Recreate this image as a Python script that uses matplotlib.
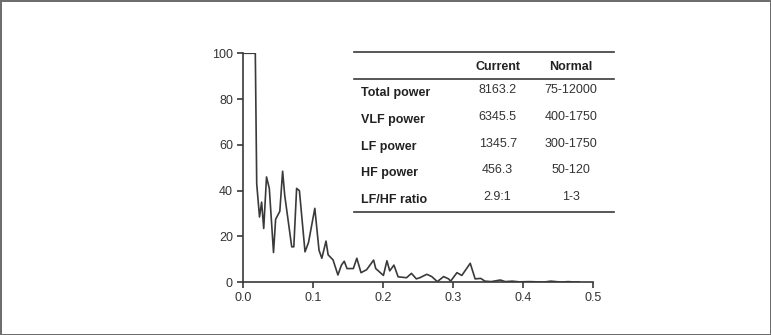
import numpy as np
import matplotlib.pyplot as plt
from matplotlib.lines import Line2D

plt.rcParams['font.family'] = ['Liberation Sans Narrow', 'Liberation Sans', 'DejaVu Sans']

# Spectrum
freq = [0.0, 0.018, 0.020, 0.024, 0.027, 0.030, 0.034, 0.038, 0.044, 0.047,
        0.053, 0.057, 0.060, 0.070, 0.073, 0.077, 0.081, 0.089, 0.094, 0.103,
        0.109, 0.113, 0.119, 0.122, 0.129, 0.136, 0.141, 0.145, 0.149, 0.158,
        0.163, 0.169, 0.177, 0.187, 0.190, 0.201, 0.206, 0.210, 0.216, 0.222,
        0.234, 0.241, 0.248, 0.253, 0.263, 0.270, 0.278, 0.287, 0.294, 0.297,
        0.306, 0.313, 0.325, 0.332, 0.340, 0.346, 0.355, 0.368, 0.375, 0.385,
        0.395, 0.410, 0.430, 0.440, 0.455, 0.465, 0.475, 0.480]
power = [100, 100, 43, 28.5, 35, 23.5, 46, 41, 13, 27.5,
         31, 48.5, 38, 15.5, 15.5, 41, 40, 13.3, 17.4, 32.3,
         14, 10.5, 18, 12, 9.8, 3.2, 7.5, 9.2, 6, 6,
         10.5, 4.2, 5.5, 9.7, 6, 3, 9.4, 5, 7.5, 2.4,
         2, 3.9, 1.5, 2, 3.5, 2.5, 0.3, 2.5, 1.5, 0.5,
         4.2, 3, 8.3, 1.5, 1.7, 0.5, 0.3, 1.0, 0.3, 0.5,
         0.2, 0.3, 0.1, 0.5, 0.1, 0.3, 0.1, 0.2]

xticks = [0.0, 0.1, 0.2, 0.3, 0.4, 0.5]
yticks = [0, 20, 40, 60, 80, 100]

# Table contents
col_heads = ["Current", "Normal"]
row_names = ["Total power", "VLF power", "LF power", "HF power", "LF/HF ratio"]
current = ["8163.2", "6345.5", "1345.7", "456.3", "2.9:1"]
normal = ["75-12000", "400-1750", "300-1750", "50-120", "1-3"]

fig = plt.figure(figsize=(7.71, 3.35), dpi=100)
fig.patch.set_edgecolor('#6e6e6e')
fig.patch.set_linewidth(2)

ax = fig.add_axes([0.3148, 0.1573, 0.454, 0.6837])
ax.plot(freq, power, color='#3a3a3a', lw=1.2)
ax.set_xlim(0, 0.5)
ax.set_ylim(0, 100)
ax.set_xticks(xticks)
ax.set_xticklabels(["{:.1f}".format(t) for t in xticks])
ax.set_yticks(yticks)
for s in ['top', 'right']:
    ax.spines[s].set_visible(False)
for s in ['left', 'bottom']:
    ax.spines[s].set_color('#3a3a3a')
    ax.spines[s].set_linewidth(1.2)
ax.tick_params(direction='out', length=4, width=1.2, color='#3a3a3a',
               labelsize=9, labelcolor='#333333', pad=3)

# Table drawn in figure coordinates
x0, x1 = 0.459, 0.7964
for y in [0.8439, 0.7642, 0.3681]:
    fig.add_artist(Line2D([x0, x1], [y, y], color='#3a3a3a', lw=1.2))

fs = 9
col_x = [0.6455, 0.7406]
fig.text(col_x[0], 0.801, col_heads[0], ha='center', va='center',
         fontsize=fs, fontweight='bold', color='#222222')
fig.text(col_x[1], 0.801, col_heads[1], ha='center', va='center',
         fontsize=fs, fontweight='bold', color='#222222')
row_y = [0.7215, 0.6418, 0.5612, 0.4826, 0.4030]
for name, c, n, y in zip(row_names, current, normal, row_y):
    fig.text(0.468, y, name, ha='left', va='center', fontsize=fs,
             fontweight='bold', color='#222222')
    fig.text(col_x[0], y + 0.01, c, ha='center', va='center', fontsize=fs,
             color='#333333')
    fig.text(col_x[1], y + 0.01, n, ha='center', va='center', fontsize=fs,
             color='#333333')

fig.savefig("out.png", dpi=100)
